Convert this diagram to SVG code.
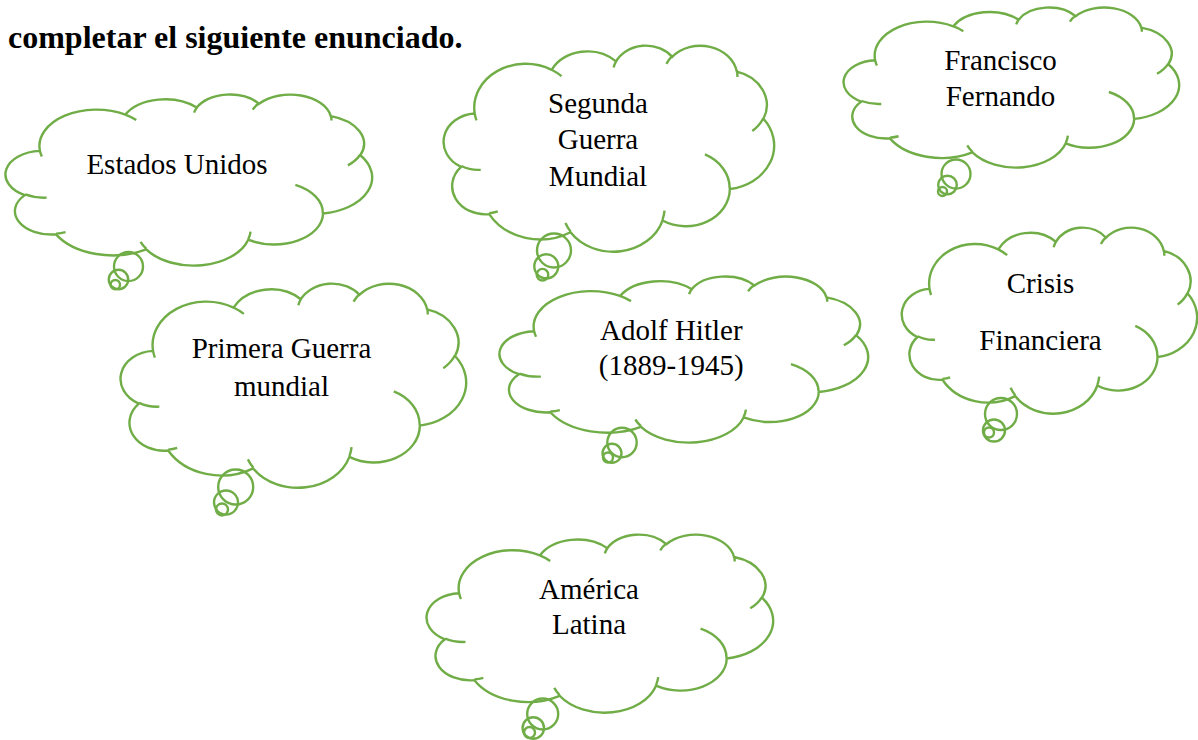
<svg xmlns="http://www.w3.org/2000/svg" xmlns:xlink="http://www.w3.org/1999/xlink" width="1198" height="740" viewBox="0 0 1198 740">
<style>
.c{fill:none;stroke:#70AD47;stroke-width:2.4;vector-effect:non-scaling-stroke}
.b{fill:none;stroke:#70AD47;stroke-width:2.4}
.t{font-family:"Liberation Serif","Times New Roman",serif;font-size:29px;fill:#000;text-anchor:middle}
.h{font-family:"Liberation Serif","Times New Roman",serif;font-size:32px;font-weight:bold;fill:#000}
</style>
<defs>
<path id="cloud" class="c" d="M 39.00 143.70 A 67.53 91.90 0 0 1 140.06 52.03 A 53.33 72.67 0 0 1 224.58 34.34 A 43.65 59.45 0 0 1 298.35 24.82 A 48.57 65.95 0 0 1 383.20 55.78 A 53.33 72.73 0 0 1 418.20 154.62 A 67.75 92.20 0 0 1 374.05 302.04 A 57.85 78.67 0 0 1 285.57 368.14 A 67.52 92.15 0 0 1 164.81 392.67 A 77.20 105.43 0 0 1 58.05 354.70 A 43.60 59.18 0 0 1 21.14 255.49 A 43.45 59.45 0 0 1 39.00 143.70 Z M 46.93 261.77 A 43.45 59.45 0 0 1 21.60 253.80 M 69.28 348.99 A 43.60 59.18 0 0 1 58.19 352.81 M 164.78 390.90 A 67.52 92.15 0 0 1 158.10 373.49 M 288.27 347.51 A 67.52 92.15 0 0 1 285.61 366.60 M 341.29 229.54 A 57.85 78.67 0 0 1 373.80 300.90 M 417.98 153.54 A 53.33 72.73 0 0 1 403.50 180.30 M 383.24 54.26 A 48.57 65.95 0 0 1 384.00 66.90 M 290.78 39.52 A 48.57 65.95 0 0 1 298.21 23.38 M 221.41 47.20 A 43.65 59.45 0 0 1 225.00 33.31 M 140.00 51.92 A 67.53 91.90 0 0 1 153.01 65.43 M 41.27 157.89 A 67.53 91.90 0 0 1 39.00 143.70"/>
</defs>
<text class="h" x="8" y="48">completar el siguiente enunciado.</text>
<g id="connectors"></g>
<g id="estados-unidos">
<use xlink:href="#cloud" transform="translate(7 94) scale(0.84491 0.39583)"/>
<circle class="b" cx="128.5" cy="266.5" r="14.5"/>
<circle class="b" cx="118.5" cy="279.5" r="9.7"/>
<circle class="b" cx="115.3" cy="284.7" r="4.7"/>
<text class="t" x="177" y="174">Estados Unidos</text>
</g>
<g id="segunda-guerra-mundial">
<use xlink:href="#cloud" transform="translate(445 45) scale(0.76157 0.47685)"/>
<circle class="b" cx="554" cy="250.5" r="17"/>
<circle class="b" cx="546.3" cy="266.3" r="12"/>
<circle class="b" cx="542.5" cy="274.7" r="5.8"/>
<text class="t" x="598" y="113">Segunda</text>
<text class="t" x="598" y="149">Guerra</text>
<text class="t" x="598" y="186">Mundial</text>
</g>
<g id="francisco-fernando">
<use xlink:href="#cloud" transform="translate(845 7) scale(0.77315 0.37037)"/>
<circle class="b" cx="956" cy="174" r="14.5"/>
<circle class="b" cx="947.5" cy="185" r="9.3"/>
<circle class="b" cx="942.5" cy="191.5" r="4.5"/>
<text class="t" x="1000.5" y="70">Francisco</text>
<text class="t" x="1000.5" y="106">Fernando</text>
</g>
<g id="primera-guerra-mundial">
<use xlink:href="#cloud" transform="translate(122 283) scale(0.79630 0.47222)"/>
<circle class="b" cx="235.7" cy="487" r="17.5"/>
<circle class="b" cx="226" cy="502.5" r="12"/>
<circle class="b" cx="222" cy="509.5" r="6"/>
<text class="t" x="281.5" y="358">Primera Guerra</text>
<text class="t" x="281.5" y="396">mundial</text>
</g>
<g id="adolf-hitler">
<use xlink:href="#cloud" transform="translate(501 276) scale(0.84954 0.38426)"/>
<circle class="b" cx="622" cy="442.5" r="14.7"/>
<circle class="b" cx="612" cy="453.3" r="9.5"/>
<circle class="b" cx="608" cy="457.5" r="5"/>
<text class="t" x="671.3" y="340">Adolf Hitler</text>
<text class="t" x="671.3" y="375">(1889-1945)</text>
</g>
<g id="crisis-financiera">
<use xlink:href="#cloud" transform="translate(903 227) scale(0.68056 0.43056)"/>
<circle class="b" cx="1001" cy="414" r="16"/>
<circle class="b" cx="994" cy="430.5" r="11"/>
<circle class="b" cx="989" cy="432.5" r="5"/>
<text class="t" x="1040.5" y="293">Crisis</text>
<text class="t" x="1040.5" y="350">Financiera</text>
</g>
<g id="america-latina">
<use xlink:href="#cloud" transform="translate(428 534) scale(0.79861 0.41204)"/>
<circle class="b" cx="542.7" cy="714" r="15.5"/>
<circle class="b" cx="533.3" cy="728" r="10.7"/>
<circle class="b" cx="529.5" cy="732.5" r="5.5"/>
<text class="t" x="589" y="599">América</text>
<text class="t" x="589" y="634">Latina</text>
</g>
</svg>
